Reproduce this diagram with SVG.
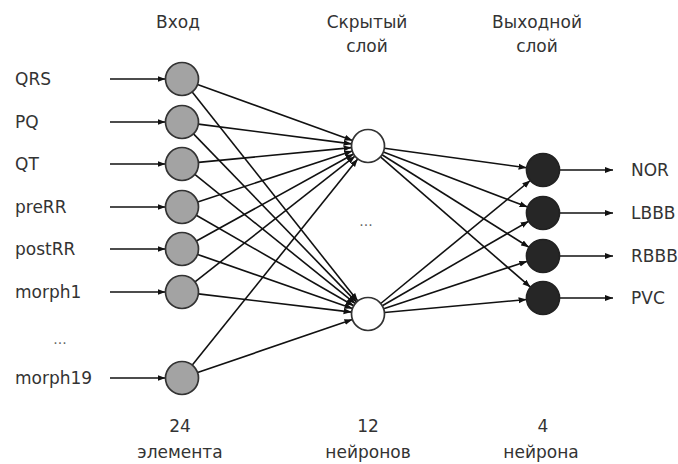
<svg xmlns="http://www.w3.org/2000/svg" width="678" height="464" viewBox="0 0 678 464">
  <style>
    text { font-family: "DejaVu Sans", "Liberation Sans", sans-serif; font-size: 17px; fill: #333; }
    .mid { text-anchor: middle; }
    .link { stroke: #111; stroke-width: 1.6; fill: none; marker-end: url(#tip); }
    .in { fill: #a3a3a3; stroke: #333; stroke-width: 1.7; }
    .hid { fill: #fff; stroke: #333; stroke-width: 1.7; }
    .out { fill: #262626; stroke: #222; stroke-width: 1.7; }
    .dots { fill: #666; font-size: 14px; }
  </style>
  <defs>
    <marker id="tip" markerUnits="userSpaceOnUse" markerWidth="9" markerHeight="7" refX="8" refY="3.5" orient="auto">
      <path d="M0,0.5 L8,3.5 L0,6.5 z" fill="#111"/>
    </marker>
  </defs>
  <rect width="678" height="464" fill="#fff"/>

  <!-- column headings -->
  <g id="headings">
    <text class="mid" x="178" y="28">Вход</text>
    <text class="mid" x="367" y="28">Скрытый</text>
    <text class="mid" x="367" y="52">слой</text>
    <text class="mid" x="537" y="28">Выходной</text>
    <text class="mid" x="537" y="52">слой</text>
  </g>

  <!-- layer sizes -->
  <g id="sizes">
    <text class="mid" x="180" y="432">24</text>
    <text class="mid" x="180" y="458">элемента</text>
    <text class="mid" x="368" y="432">12</text>
    <text class="mid" x="368" y="458">нейронов</text>
    <text class="mid" x="543" y="432">4</text>
    <text class="mid" x="541" y="458">нейрона</text>
  </g>

  <g id="connectors">
    <!-- feature inputs -->
    <line class="link" x1="110" y1="79" x2="165.5" y2="79"/>
    <line class="link" x1="110" y1="122" x2="165.5" y2="122"/>
    <line class="link" x1="110" y1="164" x2="165.5" y2="164"/>
    <line class="link" x1="110" y1="207" x2="165.5" y2="207"/>
    <line class="link" x1="110" y1="249" x2="165.5" y2="249"/>
    <line class="link" x1="110" y1="292" x2="165.5" y2="292"/>
    <line class="link" x1="110" y1="378" x2="165.5" y2="378"/>
    <!-- input to upper hidden neuron -->
    <line class="link" x1="197.5" y1="84.6" x2="352.5" y2="140.4"/>
    <line class="link" x1="198.4" y1="124.1" x2="351.6" y2="143.9"/>
    <line class="link" x1="198.4" y1="162.4" x2="351.6" y2="147.6"/>
    <line class="link" x1="197.7" y1="201.9" x2="352.3" y2="151.1"/>
    <line class="link" x1="196.4" y1="241.0" x2="353.6" y2="154.0"/>
    <line class="link" x1="195.0" y1="281.8" x2="355.0" y2="156.2"/>
    <line class="link" x1="192.3" y1="365.1" x2="357.7" y2="158.9"/>
    <!-- input to lower hidden neuron -->
    <line class="link" x1="192.2" y1="91.9" x2="357.8" y2="301.1"/>
    <line class="link" x1="193.5" y1="133.9" x2="356.5" y2="302.1"/>
    <line class="link" x1="194.8" y1="174.4" x2="355.2" y2="303.6"/>
    <line class="link" x1="196.3" y1="215.2" x2="353.7" y2="305.8"/>
    <line class="link" x1="197.6" y1="254.4" x2="352.4" y2="308.6"/>
    <line class="link" x1="198.4" y1="293.9" x2="351.6" y2="312.1"/>
    <line class="link" x1="197.6" y1="372.6" x2="352.4" y2="319.4"/>
    <!-- hidden to output -->
    <line class="link" x1="384.4" y1="148.2" x2="526.6" y2="167.8"/>
    <line class="link" x1="383.4" y1="151.9" x2="527.6" y2="207.1"/>
    <line class="link" x1="382.0" y1="154.8" x2="529.0" y2="247.2"/>
    <line class="link" x1="380.5" y1="156.8" x2="530.5" y2="287.2"/>
    <line class="link" x1="380.7" y1="303.5" x2="530.3" y2="180.5"/>
    <line class="link" x1="382.3" y1="305.8" x2="528.7" y2="221.2"/>
    <line class="link" x1="383.7" y1="308.8" x2="527.3" y2="261.2"/>
    <line class="link" x1="384.4" y1="312.5" x2="526.6" y2="299.5"/>
    <!-- class outputs -->
    <line class="link" x1="559.5" y1="170" x2="613" y2="170"/>
    <line class="link" x1="559.5" y1="213" x2="613" y2="213"/>
    <line class="link" x1="559.5" y1="256" x2="613" y2="256"/>
    <line class="link" x1="559.5" y1="298" x2="613" y2="298"/>
  </g>

  <!-- input layer -->
  <g id="in-qrs"><text x="15" y="85">QRS</text><circle class="in" cx="182" cy="79" r="16.5"/></g>
  <g id="in-pq"><text x="15" y="128">PQ</text><circle class="in" cx="182" cy="122" r="16.5"/></g>
  <g id="in-qt"><text x="15" y="170">QT</text><circle class="in" cx="182" cy="164" r="16.5"/></g>
  <g id="in-prerr"><text x="15" y="213">preRR</text><circle class="in" cx="182" cy="207" r="16.5"/></g>
  <g id="in-postrr"><text x="15" y="255">postRR</text><circle class="in" cx="182" cy="249" r="16.5"/></g>
  <g id="in-morph1"><text x="15" y="298">morph1</text><circle class="in" cx="182" cy="292" r="16.5"/></g>
  <g id="in-gap"><text class="dots mid" x="60" y="344">...</text></g>
  <g id="in-morph19"><text x="15" y="384">morph19</text><circle class="in" cx="182" cy="378" r="16.5"/></g>

  <!-- hidden layer -->
  <g id="hidden-1"><circle class="hid" cx="368" cy="146" r="16.5"/></g>
  <g id="hidden-gap"><text class="dots mid" x="366" y="226">...</text></g>
  <g id="hidden-12"><circle class="hid" cx="368" cy="314" r="16.5"/></g>

  <!-- output layer -->
  <g id="out-nor"><circle class="out" cx="543" cy="170" r="16.5"/><text x="631" y="176">NOR</text></g>
  <g id="out-lbbb"><circle class="out" cx="543" cy="213" r="16.5"/><text x="631" y="219">LBBB</text></g>
  <g id="out-rbbb"><circle class="out" cx="543" cy="256" r="16.5"/><text x="631" y="262">RBBB</text></g>
  <g id="out-pvc"><circle class="out" cx="543" cy="298" r="16.5"/><text x="631" y="304">PVC</text></g>
</svg>
